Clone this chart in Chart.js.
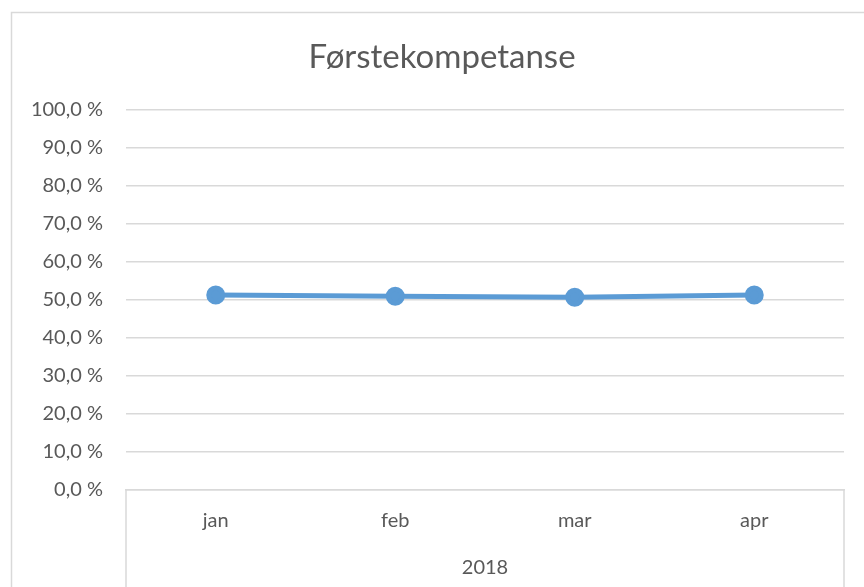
<!DOCTYPE html>
<html>
<head>
<meta charset="utf-8">
<script src="https://cdn.jsdelivr.net/npm/chart.js@4.4.1/dist/chart.umd.min.js"></script>
<style>
  html, body { margin: 0; padding: 0; background: #fff; }
  #box { position: absolute; left: 0; top: 0; width: 864px; height: 587px; }
</style>
</head>
<body>
<div id="box"><canvas id="chart" width="864" height="587"></canvas></div>
<script>
// Data
const months = ['jan', 'feb', 'mar', 'apr'];
const yearLabel = '2018';
const values = [51.3, 51.0, 50.7, 51.3];
const chartTitle = 'Førstekompetanse';

const BLUE = '#5b9bd5';
const GRID = '#d9d9d9';
const TEXT = '#595959';
const FONT = 'Lato';

// frame of the chart object, title centred on the frame, multi-level category box
const excelFrame = {
  id: 'excelFrame',
  beforeDraw(chart) {
    const { ctx, width, height } = chart;
    ctx.save();
    ctx.strokeStyle = GRID;
    ctx.lineWidth = 1.5;
    ctx.strokeRect(11.5, 12.5, width + 10, height + 10);
    ctx.restore();
  },
  afterDraw(chart) {
    const { ctx, chartArea, height } = chart;
    const x = chart.scales.x;
    ctx.save();
    ctx.fillStyle = TEXT;
    ctx.textAlign = 'center';
    ctx.textBaseline = 'middle';
    ctx.font = `33px ${FONT}`;
    ctx.fillText(chartTitle, 442, 57);

    ctx.strokeStyle = GRID;
    ctx.lineWidth = 1.5;
    ctx.beginPath();
    ctx.moveTo(x.left, chartArea.bottom);
    ctx.lineTo(x.left, height);
    ctx.moveTo(x.right, chartArea.bottom);
    ctx.lineTo(x.right, height);
    ctx.stroke();
    ctx.font = `20px ${FONT}`;
    ctx.fillText(yearLabel, (x.left + x.right) / 2, 568);
    ctx.restore();
  }
};

const ctx = document.getElementById('chart').getContext('2d');
new Chart(ctx, {
  type: 'line',
  data: {
    labels: months,
    datasets: [{
      label: chartTitle,
      data: values,
      borderColor: BLUE,
      backgroundColor: BLUE,
      borderWidth: 5,
      pointRadius: 7,
      pointHoverRadius: 7,
      pointBackgroundColor: BLUE,
      pointBorderColor: BLUE,
      tension: 0,
    }],
  },
  options: {
    responsive: false,
    animation: false,
    layout: { padding: { left: 10, right: 20, top: 110, bottom: 0 } },
    plugins: {
      legend: { display: false },
      tooltip: { enabled: false },
      title: { display: false },
    },
    scales: {
      x: {
        offset: true,
        grid: { display: false, drawTicks: false },
        border: { display: true, color: GRID, width: 1.5 },
        ticks: { color: TEXT, font: { family: FONT, size: 20 }, padding: 19, maxRotation: 0 },
        afterFit: s => { s.height = 97; },
      },
      y: {
        min: 0,
        max: 100,
        ticks: {
          stepSize: 10,
          color: TEXT,
          padding: 23,
          font: { family: FONT, size: 20 },
          callback: v => v.toFixed(1).replace('.', ',') + ' %',
        },
        grid: { color: GRID, lineWidth: 1.5, drawTicks: false },
        border: { display: false },
        afterFit: s => { s.width = 116; },
      },
    },
  },
  plugins: [excelFrame],
});
</script>
</body>
</html>
